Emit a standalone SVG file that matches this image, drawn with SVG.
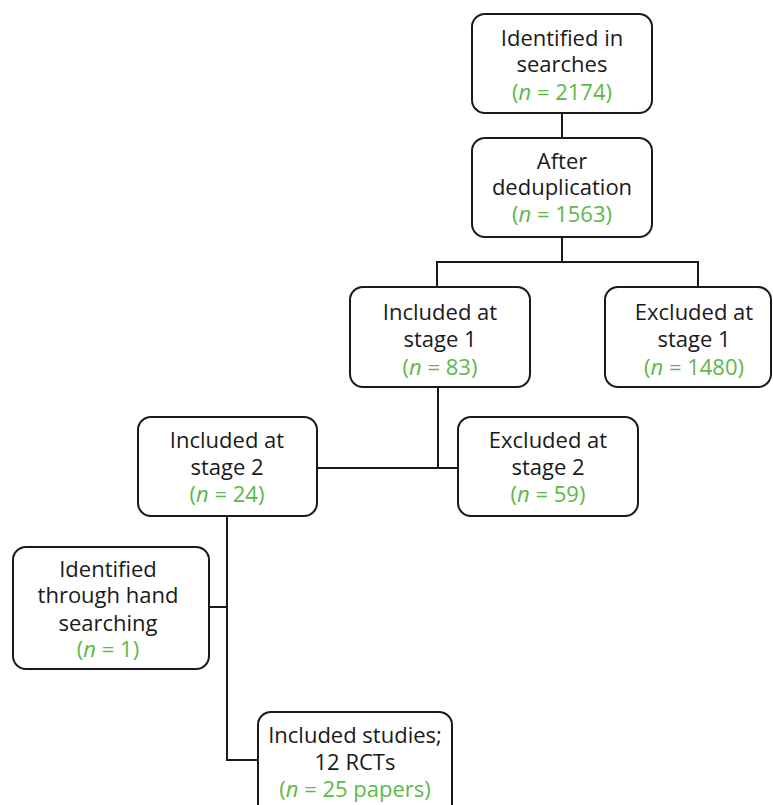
<svg xmlns="http://www.w3.org/2000/svg" width="773" height="805" viewBox="0 0 773 805">
<style>
.box{fill:#fff;stroke:#1a1a1a;stroke-width:2}
.t{font-family:"Open Sans","Noto Sans","Liberation Sans",sans-serif;font-size:22px;fill:#1a1a1a;text-anchor:middle}
.g{fill:#5db947}
.c{fill:none;stroke:#1a1a1a;stroke-width:2}
</style>
<rect width="773" height="805" fill="#fff"/>
<g id="connectors">
<path class="c" d="M562 113V138"/>
<path class="c" d="M562 237V262M437 287V262H698V287"/>
<path class="c" d="M438 387V468M317 468H458"/>
<path class="c" d="M227 516V760H258M209 607H227"/>
</g>
<g id="n1">
<rect class="box" x="472" y="14" width="180" height="99" rx="13"/>
<text class="t" x="562" y="46">Identified in</text>
<text class="t" x="562" y="72">searches</text>
<text class="t g" x="562" y="100">(<tspan font-style="italic">n</tspan> = 2174)</text>
</g>
<g id="n2">
<rect class="box" x="472" y="138" width="180" height="99" rx="13"/>
<text class="t" x="562" y="169">After</text>
<text class="t" x="562" y="195">deduplication</text>
<text class="t g" x="562" y="222">(<tspan font-style="italic">n</tspan> = 1563)</text>
</g>
<g id="n3">
<rect class="box" x="350" y="287" width="180" height="100" rx="13"/>
<text class="t" x="440" y="320">Included at</text>
<text class="t" x="440" y="347">stage 1</text>
<text class="t g" x="440" y="375">(<tspan font-style="italic">n</tspan> = 83)</text>
</g>
<g id="n4">
<rect class="box" x="605" y="287" width="166" height="100" rx="13"/>
<text class="t" x="694" y="320">Excluded at</text>
<text class="t" x="694" y="347">stage 1</text>
<text class="t g" x="694" y="375">(<tspan font-style="italic">n</tspan> = 1480)</text>
</g>
<g id="n5">
<rect class="box" x="138" y="417" width="179" height="99" rx="13"/>
<text class="t" x="227" y="448">Included at</text>
<text class="t" x="227" y="475">stage 2</text>
<text class="t g" x="227" y="502">(<tspan font-style="italic">n</tspan> = 24)</text>
</g>
<g id="n6">
<rect class="box" x="458" y="417" width="180" height="99" rx="13"/>
<text class="t" x="548" y="448">Excluded at</text>
<text class="t" x="548" y="475">stage 2</text>
<text class="t g" x="548" y="502">(<tspan font-style="italic">n</tspan> = 59)</text>
</g>
<g id="n7">
<rect class="box" x="13" y="547" width="196" height="122" rx="13"/>
<text class="t" x="108" y="577">Identified</text>
<text class="t" x="108" y="603">through hand</text>
<text class="t" x="108" y="631">searching</text>
<text class="t g" x="108" y="657">(<tspan font-style="italic">n</tspan> = 1)</text>
</g>
<g id="n8">
<rect class="box" x="258" y="712" width="194" height="110" rx="13"/>
<text class="t" x="355" y="743">Included studies;</text>
<text class="t" x="355" y="770">12 RCTs</text>
<text class="t g" x="355" y="797">(<tspan font-style="italic">n</tspan> = 25 papers)</text>
</g>
</svg>
